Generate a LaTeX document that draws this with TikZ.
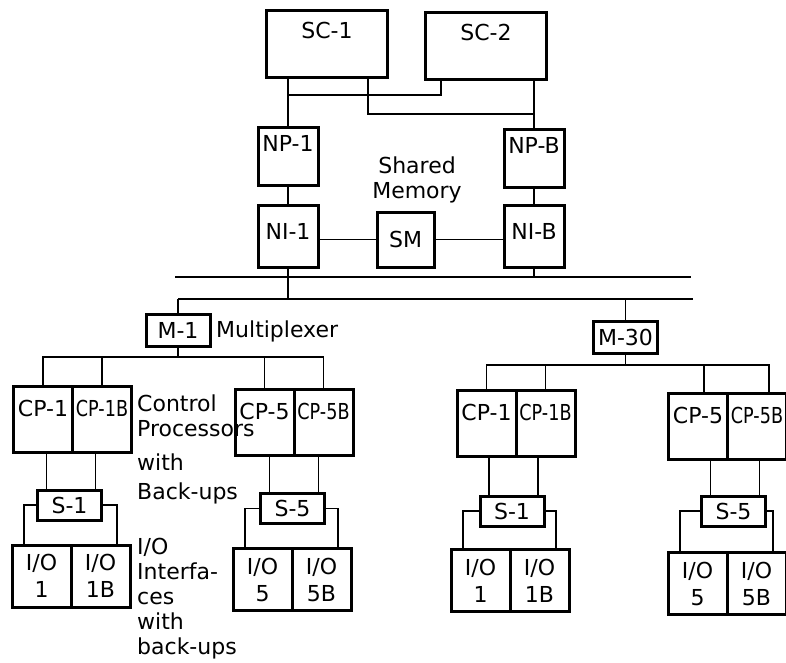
\documentclass[tikz,border=0pt]{standalone}
\usepackage{fontspec}
\newfontfamily\diafont{DejaVu Sans}
\newfontfamily\squeezefont[FakeStretch=0.8]{DejaVu Sans}
\usetikzlibrary{positioning}

\begin{document}
\begin{tikzpicture}[
    x=1pt, y=-1pt,
    unit/.style={draw=black, line width=3pt, inner sep=2pt, outer sep=0pt, font=\diafont\fontsize{22}{26}\selectfont},
    super/.style={unit, minimum width=121, text height=26pt, text depth=37pt},
    netp/.style={unit, minimum width=60, text height=22pt, text depth=32pt},
    neti/.style={unit, minimum width=60, text height=32pt, text depth=26pt},
    mem/.style={unit, minimum width=57, minimum height=55},
    mux/.style={unit, minimum width=64, minimum height=32},
    cpu/.style={unit, minimum width=59, text height=28pt, text depth=34pt},
    cpub/.style={cpu, font=\squeezefont\fontsize{22}{26}\selectfont},
    iosel/.style={unit, minimum width=64, minimum height=30},
    port/.style={unit, minimum width=59, minimum height=62, align=center, font=\diafont\fontsize{22}{27}\selectfont},
    link/.style={line width=1.8pt},
    note/.style={inner sep=0pt, align=left, font=\diafont\fontsize{22}{25}\selectfont}
]
\useasboundingbox (0,0) rectangle (786,662);

% supervisory computers
\node[super] (sc1) at (327,43.5) {SC-1};
\node[super] (sc2) at (486,46) {SC-2};

% network processors, interfaces, shared memory
\node[netp] (np1) at (288,156) {NP-1};
\node[netp] (npB) at (534,158) {NP-B};
\node[neti] (ni1) at (288,236) {NI-1};
\node[neti] (niB) at (534,236.5) {NI-B};
\node[mem] (sm) at (405.5,239.5) {SM};
\node[note, align=center] (smnote) at (417,180) {Shared\\Memory};

\coordinate (bus1w) at (175,277);
\coordinate (bus1e) at (691,277);
\coordinate (bus2w) at (178,299);
\coordinate (bus2e) at (693,299);

% multiplexers
\node[mux] (m1) at (178,330) {M-1};
\node[note, anchor=west] (muxnote) at (216,331) {Multiplexer};
\node[mux] (m30) at (625.5,337) {M-30};

% control processors with back-ups
\node[cpu] (cp1a) at (43,419) {CP-1};
\node[cpub, right=0pt of cp1a] (cp1b) {CP-1B};
\node[cpu] (cp5a) at (264.5,422.5) {CP-5};
\node[cpub, right=0pt of cp5a] (cp5b) {CP-5B};
\node[cpu] (rcp1a) at (486.5,423) {CP-1};
\node[cpub, right=0pt of rcp1a] (rcp1b) {CP-1B};
\node[cpu] (rcp5a) at (698,426) {CP-5};
\node[cpub, right=0pt of rcp5a] (rcp5b) {CP-5B};
\node[note, anchor=north west] (cpnote) at (137,395) {Control\\Processors\\[9pt]with\\[4pt]Back-ups};

% selectors
\node[iosel] (s1) at (69.5,505) {S-1};
\node[iosel] (s5) at (292.5,508.5) {S-5};
\node[iosel] (rs1) at (512,511) {S-1};
\node[iosel] (rs5) at (733.5,511) {S-5};

% i/o interfaces with back-ups
\node[port] (io1a) at (41.5,576) {I/O\\1};
\node[port, right=0pt of io1a] (io1b) {I/O\\1B};
\node[port] (io5a) at (262.5,579.5) {I/O\\5};
\node[port, right=0pt of io5a] (io5b) {I/O\\5B};
\node[port] (rio1a) at (480.5,580.5) {I/O\\1};
\node[port, right=0pt of rio1a] (rio1b) {I/O\\1B};
\node[port] (rio5a) at (697.5,583.5) {I/O\\5};
\node[port, right=0pt of rio5a] (rio5b) {I/O\\5B};
\node[note, anchor=north west] (ionote) at (137,538) {I/O\\Interfa-\\ces\\with\\back-ups};

% supervisory links
\draw[link] (np1.north) -- (np1.north |- sc1.south);
\draw[link] (npB.north) -- (npB.north |- sc2.south);
\draw[link] ([xshift=-45]sc2.south) |- ([yshift=32]np1.north);
\draw[link] ([xshift=41]sc1.south) |- ([yshift=15]npB.north);

% network side
\draw[link] (np1) -- (ni1);
\draw[link] (npB) -- (niB);
\draw[link] (sm.west) -- (sm.west -| ni1.east);
\draw[link] (sm.east) -- (sm.east -| niB.west);
\draw[link] (ni1.south) -- (ni1.south |- bus2w);
\draw[link] (niB.south) -- (niB.south |- bus1w);
\draw[link] (bus1w) -- (bus1e);
\draw[link] (bus2w) -- (bus2e);
\draw[link] (m1.north) -- (m1.north |- bus2w);
\draw[link] (m30.north) -- (m30.north |- bus2e);

% multiplexer fan-out
\coordinate (m1fork) at ([yshift=-11]m1.south);
\draw[link] (m1.south) -- (m1fork);
\draw[link] (cp1a.north) |- (m1fork) -| (cp5b.north);
\draw[link] (cp1b.north) -- (cp1b.north |- m1fork);
\draw[link] (cp5a.north) -- (cp5a.north |- m1fork);

\coordinate (m30fork) at ([yshift=-12]m30.south);
\draw[link] (m30.south) -- (m30fork);
\draw[link] (rcp1a.north) |- (m30fork) -| ([xshift=12]rcp5b.north);
\draw[link] (rcp1b.north) -- (rcp1b.north |- m30fork);
\draw[link] ([xshift=6]rcp5a.north) -- ([xshift=6]rcp5a.north |- m30fork);

% processors to selectors
\draw[link] ([xshift=9]s1.north west) -- ([xshift=9]s1.north west |- cp1a.south);
\draw[link] ([xshift=-6]s1.north east) -- ([xshift=-6]s1.north east |- cp1b.south);
\draw[link] ([xshift=9]s5.north west) -- ([xshift=9]s5.north west |- cp5a.south);
\draw[link] ([xshift=-6]s5.north east) -- ([xshift=-6]s5.north east |- cp5b.south);
\draw[link] ([xshift=9]rs1.north west) -- ([xshift=9]rs1.north west |- rcp1a.south);
\draw[link] ([xshift=-6]rs1.north east) -- ([xshift=-6]rs1.north east |- rcp1b.south);
\draw[link] ([xshift=9]rs5.north west) -- ([xshift=9]rs5.north west |- rcp5a.south);
\draw[link] ([xshift=-6]rs5.north east) -- ([xshift=-6]rs5.north east |- rcp5b.south);

% selectors to interfaces
\draw[link] (s1.west) -| ([xshift=12]io1a.north west);
\draw[link] (s1.east) -| ([xshift=-13]io1b.north east);
\draw[link] (s5.west) -| ([xshift=12]io5a.north west);
\draw[link] (s5.east) -| ([xshift=-13]io5b.north east);
\draw[link] (rs1.west) -| ([xshift=12]rio1a.north west);
\draw[link] (rs1.east) -| ([xshift=-13]rio1b.north east);
\draw[link] (rs5.west) -| ([xshift=12]rio5a.north west);
\draw[link] (rs5.east) -| ([xshift=-13]rio5b.north east);

\end{tikzpicture}
\end{document}
